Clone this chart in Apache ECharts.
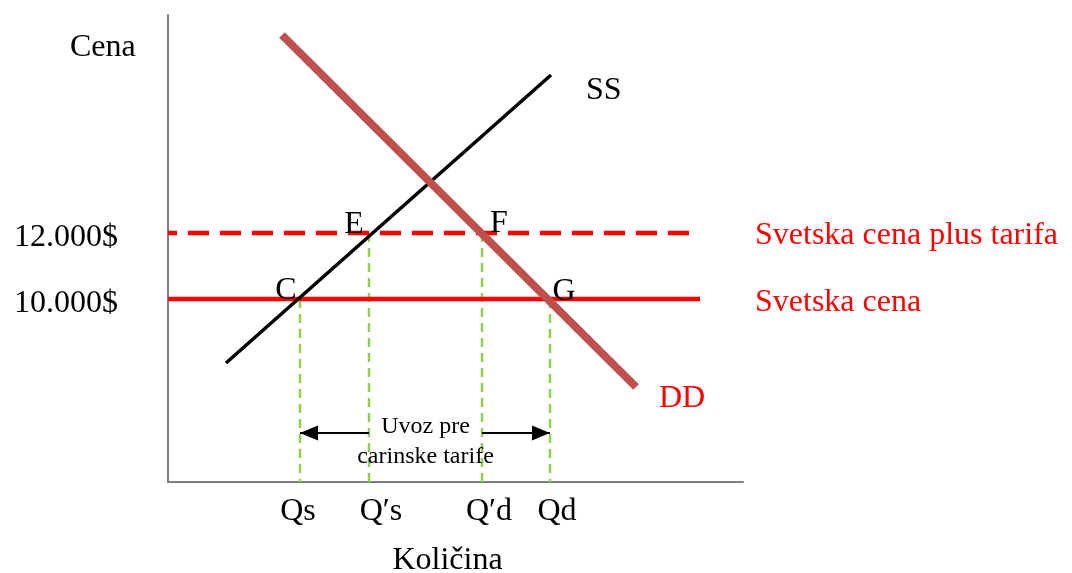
<!DOCTYPE html>
<html>
<head>
<meta charset="utf-8">
<script src="https://cdn.jsdelivr.net/npm/echarts@6/dist/echarts.min.js"></script>
<style>
  html, body { margin: 0; padding: 0; background: #fff; }
  #chart { width: 1072px; height: 573px; }
</style>
</head>
<body>
<div id="chart"></div>
<script>
// ===== data =====
const quantityTicks = ['Qs', 'Q′s', 'Q′d', 'Qd']
const quantityValues = [26.4, 40.2, 62.8, 76.4]
const priceLevels = [10000, 12000]
const priceTickLabels = ['10.000$', '12.000$']
const supplyCurve = [[11.6, 8061], [76.6, 16788]]
const demandCurve = [[22.8, 18000], [93.6, 7333]]
const priceLineEnd = 106.4
const pointNames = ['C', 'E', 'F', 'G']
const importLevel = 5939

const yMin = 4455
const yMax = 18606
const FONT = 'Liberation Serif'

const chart = echarts.init(document.getElementById('chart'))

// intersection points C, E, F, G
const points = [
  [quantityValues[0], priceLevels[0]],
  [quantityValues[1], priceLevels[1]],
  [quantityValues[2], priceLevels[1]],
  [quantityValues[3], priceLevels[0]],
]
const pointOffsets = [[-14, -8], [-15, -8], [17, -9], [14, -7]]

// green dashed drop lines
const dropSeries = points.map(p => ({
  type: 'line',
  data: [p, [p[0], yMin]],
  symbol: 'none',
  lineStyle: { color: '#92D050', width: 2.5, type: [9, 6] },
  z: 1,
}))

const arrowStyle = { color: '#000', width: 2, type: 'solid' }

const option = {
  animation: false,
  grid: { left: 168, top: 15, right: 329, bottom: 91, outerBoundsMode: 'none' },
  xAxis: {
    type: 'value',
    min: 0,
    max: 115,
    axisLine: { lineStyle: { color: '#7f7f7f', width: 2 } },
    axisTick: { show: false },
    splitLine: { show: false },
    axisLabel: {
      customValues: quantityValues,
      margin: 14,
      fontFamily: FONT,
      fontSize: 32,
      color: '#000',
      formatter: (v) => {
        const i = quantityValues.indexOf(v)
        return `{q${i}|${quantityTicks[i]}}`
      },
      rich: {
        q0: { fontFamily: FONT, fontSize: 32, color: '#000', padding: [0, 4, 0, 0] },
        q1: { fontFamily: FONT, fontSize: 32, color: '#000', padding: [0, 0, 0, 24] },
        q2: { fontFamily: FONT, fontSize: 32, color: '#000', padding: [0, 0, 0, 14] },
        q3: { fontFamily: FONT, fontSize: 32, color: '#000', padding: [0, 0, 0, 14] },
      },
    },
    name: 'Količina',
    nameLocation: 'middle',
    nameGap: 63,
    nameTextStyle: { fontFamily: FONT, fontSize: 32, color: '#000', padding: [0, 16, 0, 0] },
  },
  yAxis: {
    type: 'value',
    min: yMin,
    max: yMax,
    axisLine: { show: true, lineStyle: { color: '#7f7f7f', width: 2 } },
    axisTick: { show: false },
    splitLine: { show: false },
    axisLabel: {
      customValues: priceLevels,
      margin: 50,
      fontFamily: FONT,
      fontSize: 32,
      color: '#000',
      formatter: (v) => `{p|${priceTickLabels[priceLevels.indexOf(v)]}}`,
      rich: {
        p: { fontFamily: FONT, fontSize: 32, color: '#000', padding: [10, 0, 0, 0] },
      },
    },
  },
  graphic: [{
    type: 'text',
    x: 70,
    y: 48,
    style: { text: 'Cena', font: `32px "${FONT}"`, fill: '#000', verticalAlign: 'middle' },
  }],
  series: [
    ...dropSeries,
    {
      // svetska cena
      type: 'line',
      data: [[0, priceLevels[0]], [priceLineEnd, priceLevels[0]]],
      symbol: 'none',
      lineStyle: { color: '#ff0000', width: 4.5 },
      endLabel: {
        show: true, formatter: 'Svetska cena', distance: 55, offset: [0, 4],
        fontFamily: FONT, fontSize: 32, color: '#ff0000',
      },
      z: 2,
    },
    {
      // svetska cena plus tarifa
      type: 'line',
      data: [[0, priceLevels[1]], [priceLineEnd, priceLevels[1]]],
      symbol: 'none',
      lineStyle: { color: '#ff0000', width: 4.5, type: [21, 11], dashOffset: 12 },
      endLabel: {
        show: true, formatter: 'Svetska cena plus tarifa', distance: 55, offset: [0, 3],
        fontFamily: FONT, fontSize: 32, color: '#ff0000',
      },
      z: 2,
    },
    {
      // SS
      type: 'line',
      data: supplyCurve,
      symbol: 'none',
      lineStyle: { color: '#000', width: 3.5 },
      endLabel: {
        show: true, formatter: 'SS', distance: 35, offset: [0, 16],
        fontFamily: FONT, fontSize: 32, color: '#000',
      },
      z: 3,
    },
    {
      // DD
      type: 'line',
      data: demandCurve,
      symbol: 'none',
      lineStyle: { color: '#C0504D', width: 8, cap: 'butt' },
      endLabel: {
        show: true, formatter: 'DD', distance: 23, offset: [0, 12],
        fontFamily: FONT, fontSize: 32, color: '#ff0000',
      },
      z: 4,
    },
    {
      // import arrows
      type: 'line',
      data: [],
      markLine: {
        silent: true,
        symbol: ['none', 'triangle'],
        symbolSize: [15, 18],
        symbolOffset: [0, [0, 9]],
        label: { show: false },
        lineStyle: arrowStyle,
        data: [
          [{ coord: [quantityValues[1], importLevel] }, { coord: [quantityValues[0], importLevel] }],
          [{ coord: [quantityValues[2], importLevel] }, { coord: [quantityValues[3], importLevel] }],
        ],
      },
      z: 5,
    },
    {
      // import text
      type: 'scatter',
      symbolSize: 1,
      itemStyle: { color: 'rgba(0,0,0,0)' },
      data: [{
        value: [(quantityValues[1] + quantityValues[2]) / 2, importLevel],
        label: {
          show: true, position: 'inside', offset: [0, 9],
          formatter: 'Uvoz pre\ncarinske tarife',
          fontFamily: FONT, fontSize: 24, lineHeight: 30, color: '#000',
          opacity: 1, textBorderWidth: 0,
        },
      }],
      z: 5,
    },
    {
      // point labels
      type: 'scatter',
      symbolSize: 1,
      itemStyle: { color: 'rgba(0,0,0,0)' },
      data: points.map((p, i) => ({
        value: p,
        name: pointNames[i],
        label: {
          show: true, position: 'inside', offset: pointOffsets[i],
          formatter: pointNames[i],
          fontFamily: FONT, fontSize: 32, color: '#000',
          opacity: 1, textBorderWidth: 0,
        },
      })),
      z: 6,
    },
  ],
}

chart.setOption(option)
</script>
</body>
</html>
